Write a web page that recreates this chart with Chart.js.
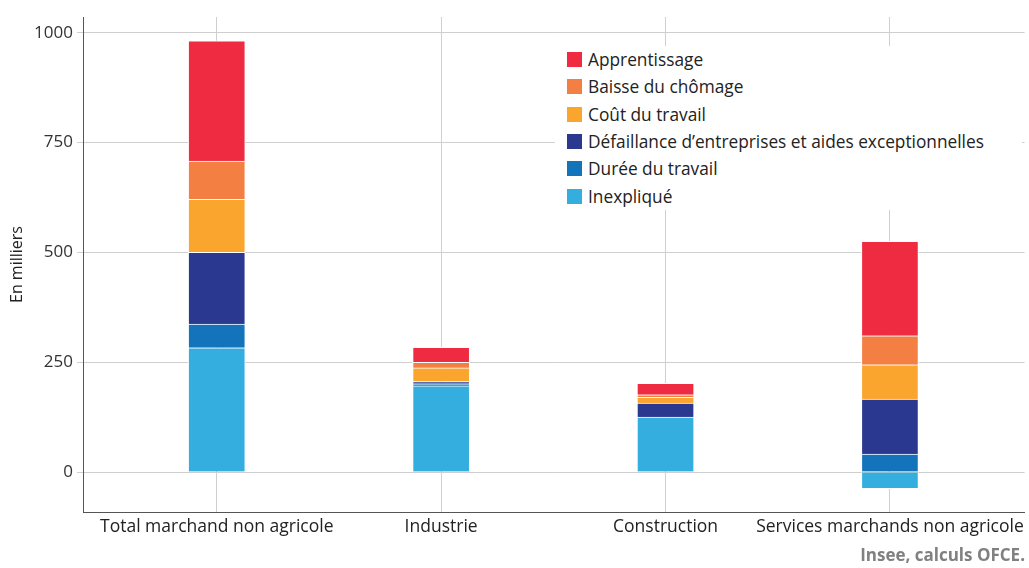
<!DOCTYPE html>
<html>
<head>
<meta charset="utf-8">
<script src="https://cdn.jsdelivr.net/npm/chart.js@4/dist/chart.umd.min.js"></script>
<style>
    body { margin: 0; background: #fff; font-family: "Open Sans", sans-serif; }
    #wrap { position: relative; width: 1029px; height: 568px; }
    #legende {
        position: absolute; left: 555px; top: 46px; width: 467px; height: 164px;
        background: #fff; box-sizing: border-box; padding: 0 0 0 12px;
    }
    .item { height: 27.3px; display: flex; align-items: center; font-size: 17.3px; color: #222; white-space: nowrap; }
    .carre { width: 15px; height: 15px; margin-right: 6px; flex: none; }
    #source {
        position: absolute; right: 4px; top: 543px; font-size: 17px; font-weight: bold; color: #808080;
    }
</style>
</head>
<body>
<div id="wrap">
    <canvas id="grafico" width="1029" height="568"></canvas>
    <div id="legende"></div>
    <div id="source">Insee, calculs OFCE.</div>
</div>
<script>
const categories = ['Total marchand non agricole', 'Industrie', 'Construction', 'Services marchands non agricole'];
const yTicks = [0, 250, 500, 750, 1000];

// séries, du bas vers le haut de la pile
const inexplique = [283, 196, 125, -38];
const dureeTravail = [54, 5, 0, 41];
const defaillance = [163, 5, 32, 125];
const coutTravail = [121, 31, 13, 78];
const baisseChomage = [87, 13, 6, 66];
const apprentissage = [274, 34, 26, 215];

const series = [
    { label: 'Inexpliqué', data: inexplique, color: '#33aedf' },
    { label: 'Durée du travail', data: dureeTravail, color: '#1474bb' },
    { label: 'Défaillance d\u2019entreprises et aides exceptionnelles', data: defaillance, color: '#2a388f' },
    { label: 'Coût du travail', data: coutTravail, color: '#f9a52e' },
    { label: 'Baisse du chômage', data: baisseChomage, color: '#f47f43' },
    { label: 'Apprentissage', data: apprentissage, color: '#ee2b41' }
];

const fonte = '"Open Sans", sans-serif';

const ctx = document.getElementById('grafico').getContext('2d');
const chart = new Chart(ctx, {
    type: 'bar',
    data: {
        datasets: series.map(s => ({
            label: s.label,
            data: s.data.map((v, i) => ({ x: i, y: v })),
            backgroundColor: s.color,
            borderColor: '#ffffff',
            borderWidth: 1,
            barThickness: 57
        }))
    },
    options: {
        responsive: false,
        animation: false,
        layout: { padding: { top: 17, right: 2, left: 0, bottom: 0 } },
        plugins: {
            legend: { display: false },
            tooltip: { enabled: false }
        },
        scales: {
            x: {
                type: 'linear',
                stacked: true,
                offset: false,
                min: -0.596,
                max: 3.6,
                afterBuildTicks: scale => { scale.ticks = categories.map((c, i) => ({ value: i })); },
                afterFit: scale => { scale.height = 56; },
                grid: { color: '#cfcfcf', lineWidth: 1, drawTicks: false, offset: false },
                border: { color: '#555555', width: 1 },
                ticks: {
                    autoSkip: false,
                    maxRotation: 0,
                    padding: 5,
                    color: '#222',
                    font: { family: fonte, size: 17.5 },
                    callback: value => categories[value]
                }
            },
            y: {
                stacked: true,
                min: -91,
                max: 1036,
                afterBuildTicks: scale => { scale.ticks = yTicks.map(v => ({ value: v })); },
                afterFit: scale => { scale.width = 83; },
                grid: { color: '#cfcfcf', lineWidth: 1, tickLength: 6 },
                border: { color: '#555555', width: 1 },
                ticks: {
                    padding: 4,
                    color: '#333',
                    font: { family: fonte, size: 17 },
                    callback: value => String(value)
                },
                title: {
                    display: true,
                    text: 'En milliers',
                    color: '#222',
                    font: { family: fonte, size: 16 },
                    padding: { top: 8, bottom: 0 }
                }
            }
        }
    }
});

// légende, dans l'ordre de la pile (haut en premier)
const legende = document.getElementById('legende');
series.slice().reverse().forEach(s => {
    const item = document.createElement('div');
    item.className = 'item';
    item.innerHTML = '<span class="carre" style="background:' + s.color + '"></span>' + s.label;
    legende.appendChild(item);
});
</script>
</body>
</html>
